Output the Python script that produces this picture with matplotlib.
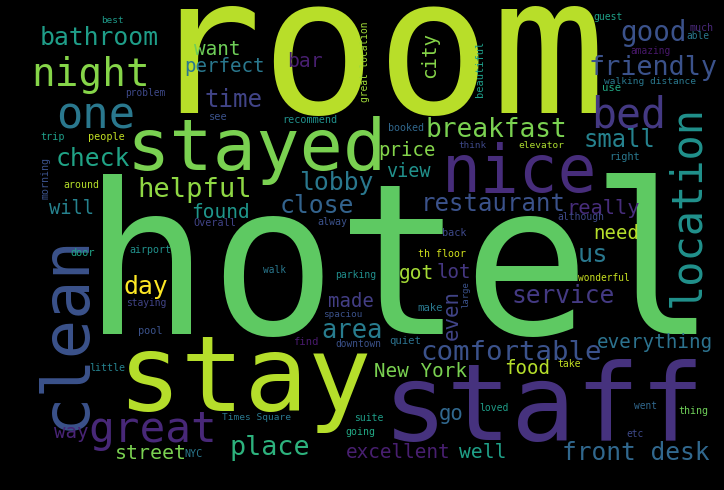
import matplotlib
matplotlib.use("Agg")
import matplotlib.pyplot as plt
from matplotlib.textpath import TextPath
from matplotlib.font_manager import FontProperties

# words of the cloud, biggest first
words = ["room", "hotel", "stay", "staff", "stayed", "nice", "clean", "great",
         "location", "night", "one", "bathroom", "check", "helpful", "bed", "good",
         "friendly", "breakfast", "small", "lobby", "close", "restaurant", "day",
         "us", "service", "comfortable", "area", "made", "New York", "food",
         "place", "street", "excellent", "front desk", "well", "everything", "go",
         "got", "lot", "price", "view", "want", "perfect", "time", "bar", "city",
         "found", "will", "need", "really", "way", "even", "large",
         "best", "problem", "trip", "people", "see", "recommend", "booked",
         "great location", "beautiful", "think", "elevator", "guest", "much",
         "able", "amazing", "walking distance", "use", "right", "although",
         "wonderful", "morning", "around", "Overall", "door", "airport",
         "staying", "pool", "little", "Times Square", "NYC", "alway", "back",
         "th floor", "walk", "parking", "make", "spaciou", "find", "downtown",
         "quiet", "suite", "going", "loved", "went", "thing", "etc", "take"]

# ink box in pixels (x0, y0, x1, y1), vertical flag, colour
layout = {
    "room": (167, 8, 587, 114, 0, "#b8de29"),
    "hotel": (101, 175, 698, 334, 0, "#5ec962"),
    "stay": (126, 334, 363, 436, 0, "#b5de2b"),
    "staff": (393, 358, 695, 442, 0, "#46327e"),
    "stayed": (135, 113, 378, 187, 0, "#7ad151"),
    "nice": (447, 143, 593, 192, 0, "#472d7b"),
    "clean": (35, 238, 83, 425, 1, "#3b528b"),
    "great": (93, 410, 213, 453, 0, "#482878"),
    "location": (667, 108, 700, 303, 1, "#21918c"),
    "night": (35, 57, 147, 93, 0, "#86d549"),
    "one": (60, 103, 132, 131, 0, "#2a788e"),
    "bathroom": (41, 27, 158, 45, 0, "#1f9e89"),
    "check": (57, 147, 128, 167, 0, "#20a386"),
    "helpful": (140, 177, 250, 202, 0, "#8fd744"),
    "bed": (595, 95, 662, 128, 0, "#443983"),
    "good": (623, 18, 684, 48, 0, "#3b528b"),
    "friendly": (591, 54, 715, 82, 0, "#3b528b"),
    "breakfast": (427, 117, 565, 137, 0, "#7ad151"),
    "small": (586, 130, 654, 147, 0, "#26828e"),
    "lobby": (300, 172, 372, 195, 0, "#2a788e"),
    "close": (281, 195, 353, 212, 0, "#33638d"),
    "restaurant": (423, 195, 564, 210, 0, "#3b528b"),
    "day": (125, 275, 167, 300, 0, "#fde725"),
    "us": (580, 247, 605, 263, 0, "#2a788e"),
    "service": (513, 285, 613, 303, 0, "#443a83"),
    "comfortable": (425, 338, 598, 362, 0, "#3b528b"),
    "area": (324, 323, 380, 340, 0, "#287c8e"),
    "made": (329, 293, 373, 307, 0, "#433e85"),
    "New York": (375, 362, 465, 378, 0, "#7ad151"),
    "food": (506, 359, 548, 375, 0, "#b5de2b"),
    "place": (232, 434, 308, 461, 0, "#2db27d"),
    "street": (117, 445, 184, 460, 0, "#7ad151"),
    "excellent": (347, 443, 449, 458, 0, "#481f70"),
    "front desk": (563, 441, 708, 460, 0, "#31688e"),
    "well": (460, 443, 505, 459, 0, "#1fa088"),
    "everything": (598, 333, 711, 352, 0, "#2c728e"),
    "go": (440, 408, 462, 425, 0, "#31688e"),
    "got": (400, 265, 432, 283, 0, "#a5db36"),
    "lot": (438, 264, 470, 277, 0, "#453781"),
    "price": (380, 142, 435, 159, 0, "#84d44b"),
    "view": (386, 163, 430, 177, 0, "#21918c"),
    "want": (195, 42, 240, 55, 0, "#6ece58"),
    "perfect": (185, 58, 263, 75, 0, "#2a788e"),
    "time": (206, 90, 262, 107, 0, "#414487"),
    "bar": (288, 52, 321, 67, 0, "#481f70"),
    "city": (422, 32, 437, 77, 1, "#86d549"),
    "found": (193, 203, 248, 218, 0, "#1f968b"),
    "will": (50, 199, 93, 214, 0, "#26828e"),
    "need": (595, 225, 638, 238, 0, "#b5de2b"),
    "really": (570, 197, 637, 220, 0, "#472d7b"),
    "way": (55, 426, 88, 443, 0, "#482475"),
    "even": (444, 293, 460, 337, 1, "#414487"),
    "large": (462, 282, 470, 308, 1, "#3b528b"),
    "best": (102, 16, 123, 23, 0, "#1f9a8a"),
    "problem": (126, 89, 165, 98, 0, "#3e4989"),
    "trip": (41, 132, 64, 142, 0, "#1f9e89"),
    "people": (89, 132, 124, 142, 0, "#c2df23"),
    "see": (210, 113, 226, 121, 0, "#3b528b"),
    "recommend": (284, 115, 336, 123, 0, "#21918c"),
    "booked": (389, 123, 423, 131, 0, "#31688e"),
    "great location": (361, 22, 370, 102, 1, "#a0da39"),
    "beautiful": (475, 42, 484, 95, 1, "#1f9e89"),
    "think": (459, 141, 486, 148, 0, "#3e4989"),
    "elevator": (519, 141, 564, 148, 0, "#addc30"),
    "guest": (594, 13, 622, 22, 0, "#1fa188"),
    "much": (691, 23, 713, 32, 0, "#482878"),
    "able": (687, 32, 709, 39, 0, "#2a788e"),
    "amazing": (631, 47, 670, 56, 0, "#48186a"),
    "walking distance": (605, 77, 696, 86, 0, "#2a788e"),
    "use": (603, 85, 620, 92, 0, "#22a884"),
    "right": (611, 152, 639, 162, 0, "#2a788e"),
    "although": (558, 213, 604, 222, 0, "#3e4989"),
    "wonderful": (579, 273, 629, 281, 0, "#c8e020"),
    "morning": (42, 157, 50, 199, 1, "#3b528b"),
    "around": (64, 180, 98, 188, 0, "#b5de2b"),
    "Overall": (195, 218, 235, 227, 0, "#414487"),
    "door": (71, 248, 94, 257, 0, "#20a386"),
    "airport": (130, 245, 170, 255, 0, "#21918c"),
    "staying": (127, 298, 165, 308, 0, "#414487"),
    "pool": (139, 327, 162, 336, 0, "#3b528b"),
    "little": (90, 363, 124, 372, 0, "#26828e"),
    "Times Square": (223, 413, 291, 422, 0, "#2a788e"),
    "NYC": (185, 450, 202, 457, 0, "#2a788e"),
    "alway": (318, 217, 347, 227, 0, "#3b528b"),
    "back": (443, 228, 466, 237, 0, "#3e4989"),
    "th floor": (420, 249, 465, 258, 0, "#d0e11c"),
    "walk": (263, 266, 286, 273, 0, "#2a788e"),
    "parking": (336, 270, 375, 280, 0, "#218e8d"),
    "make": (418, 303, 442, 312, 0, "#2a788e"),
    "spaciou": (323, 311, 362, 318, 0, "#3b528b"),
    "find": (294, 337, 317, 346, 0, "#481a6c"),
    "downtown": (336, 340, 381, 347, 0, "#3b528b"),
    "quiet": (390, 336, 420, 347, 0, "#2c728e"),
    "suite": (355, 414, 383, 421, 0, "#1f9e89"),
    "going": (346, 427, 374, 437, 0, "#22a884"),
    "loved": (480, 403, 507, 412, 0, "#1f9e89"),
    "went": (635, 402, 657, 409, 0, "#31688e"),
    "thing": (679, 406, 707, 417, 0, "#6ece58"),
    "etc": (627, 430, 643, 437, 0, "#3e4989"),
    "take": (558, 359, 580, 367, 0, "#c2df23"),
}

W, H, DPI = 724, 490, 100
fp = FontProperties(family="DejaVu Sans Mono")

fig = plt.figure(figsize=(W / DPI, H / DPI), dpi=DPI, facecolor="black")
ax = fig.add_axes([0, 0, 1, 1])
ax.set_facecolor("black")
ax.set_xlim(0, W)
ax.set_ylim(H, 0)
ax.axis("off")

for w in words:
    x0, y0, x1, y1, vert, col = layout[w]
    b = TextPath((0, 0), w, size=100, prop=fp).get_extents()
    if vert:
        L, T = y1 - y0, x1 - x0
    else:
        L, T = x1 - x0, y1 - y0
    # mostly trust the word length, the thickness is harder to read
    s = 0.85 * L / b.width + 0.15 * T / b.height
    mid = (b.y0 + b.y1) / 2 * s
    cx, cy = (x0 + x1) / 2, (y0 + y1) / 2
    if vert:
        ax.text(cx + mid, cy, w, rotation=90, rotation_mode="anchor",
                ha="center", va="baseline", color=col, fontproperties=fp,
                fontsize=100 * s * 72 / DPI)
    else:
        ax.text(cx, cy + mid, w, ha="center", va="baseline", color=col,
                fontproperties=fp, fontsize=100 * s * 72 / DPI)

fig.savefig("out.png", dpi=DPI, facecolor="black")
